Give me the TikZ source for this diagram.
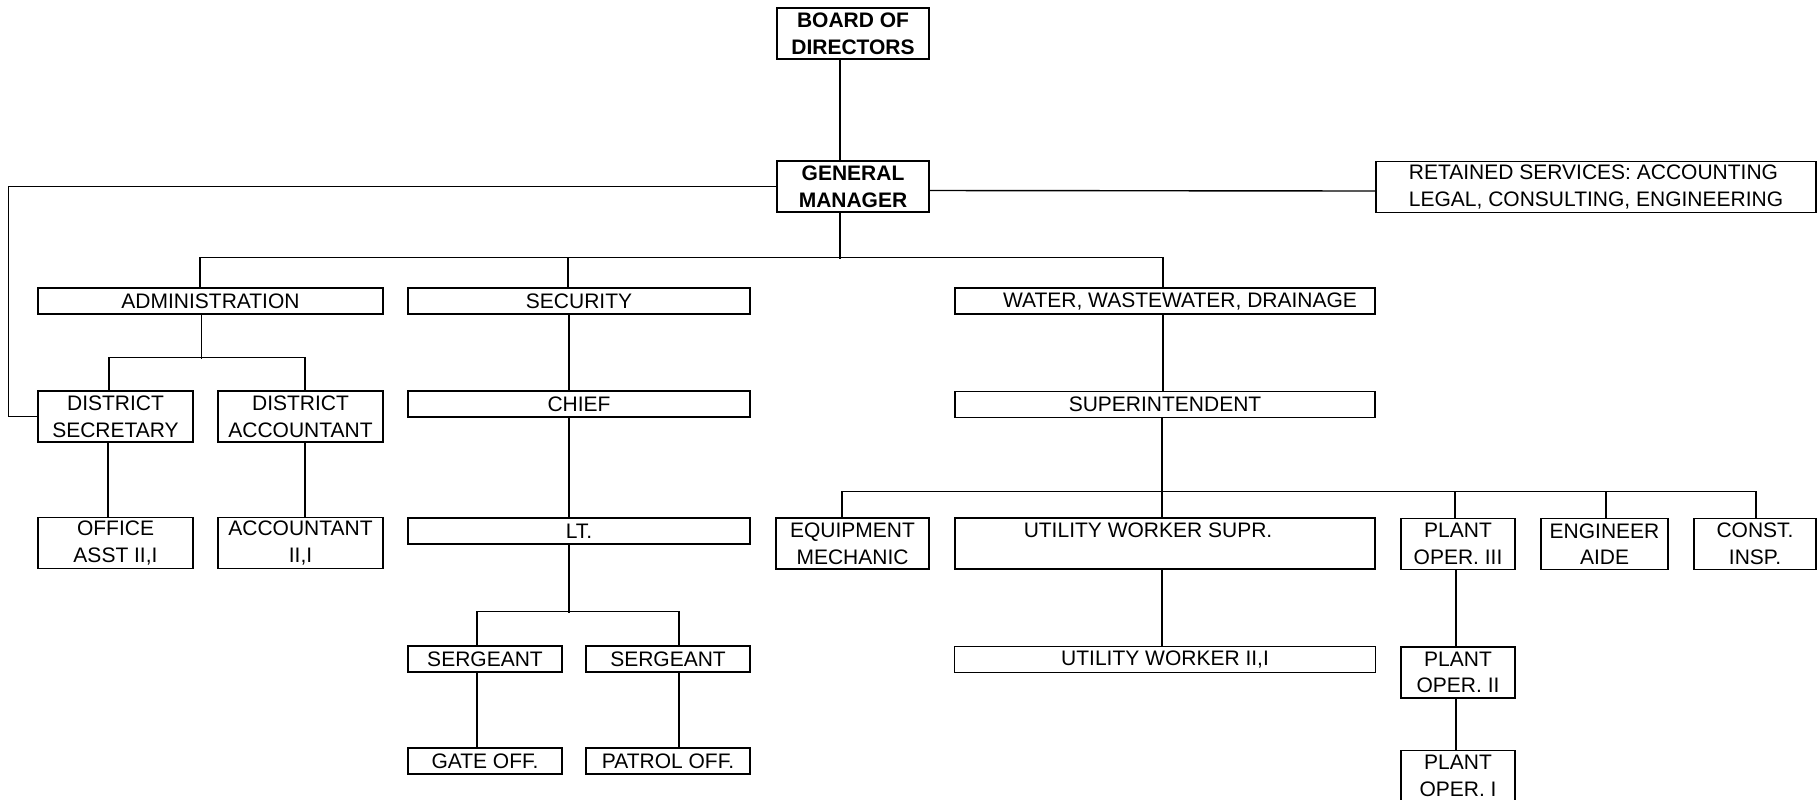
\documentclass[tikz,border=0pt]{standalone}
\usepackage{fontspec}
\setmainfont{Liberation Sans}
\usetikzlibrary{calc}

\begin{document}
\begin{tikzpicture}[
  x=0.5pt, y=-0.5pt,
  every node/.style={font=\fontsize{10.5}{13.3}\selectfont, inner sep=0pt, align=center},
  post/.style={draw, line width=0.7pt, minimum width=#1, minimum height=13pt},
  post2/.style={post=#1, minimum height=25.5pt},
  head/.style={font=\fontsize{10.5}{13.3}\selectfont\bfseries},
  link/.style={line width=0.7pt},
]
\useasboundingbox (0,0) rectangle (1818,799);
% top of the chart
\node[post2=76pt, head] (board) at (853,33.5) {BOARD OF\\DIRECTORS};
\node[post2=76pt, head] (gm) at (853,186.5) {GENERAL\\MANAGER};
\node[post2=220pt, align=left] (ret) at (1596,187)
  {RETAINED SERVICES: ACCOUNTING\\LEGAL, CONSULTING, ENGINEERING};
% departments
\node[post=172.5pt] (admin) at (210.5,301) {ADMINISTRATION};
\node[post=171pt] (sec) at (579,301) {SECURITY};
\node[post=210pt] (water) at (1165,301) {\hspace*{15pt}WATER, WASTEWATER, DRAINAGE};
% administration
\node[post2=77.5pt] (dsec) at (115.5,416.5) {DISTRICT\\SECRETARY};
\node[post2=82.5pt] (dacc) at (300.5,416.5) {DISTRICT\\ACCOUNTANT};
\node[post2=77.5pt] (office) at (115.5,543) {OFFICE\\ASST II,I};
\node[post2=82.5pt] (acc) at (300.5,543) {ACCOUNTANT\\II,I};
% security
\node[post=171pt] (chief) at (579,404) {CHIEF};
\node[post=171pt] (lt) at (579,531) {LT.};
\node[post=77pt] (sgtA) at (485,659) {SERGEANT};
\node[post=82pt] (sgtB) at (668,659) {SERGEANT};
\node[post=77pt] (gate) at (485,761) {GATE OFF.};
\node[post=82pt] (patrol) at (668,761) {PATROL OFF.};
% water, wastewater, drainage
\node[post=210pt] (super) at (1165,404.5) {SUPERINTENDENT};
\node[post2=76.5pt] (equip) at (852.5,543.5) {EQUIPMENT\\MECHANIC};
\node[post2=210pt] (uws) at (1165,543.5) {UTILITY WORKER SUPR.\hspace*{17pt}\\\mbox{}};
\node[post2=57pt] (opIII) at (1458,544) {PLANT\\OPER. III};
\node[post2=63.5pt] (aide) at (1604.5,544) {ENGINEER\\AIDE};
\node[post2=61pt] (insp) at (1755,544) {CONST.\\INSP.};
\node[post=210.5pt] (uw) at (1165,659.5) {UTILITY WORKER II,I};
\node[post2=57pt] (opII) at (1458,672.5) {PLANT\\OPER. II};
\node[post2=57pt] (opI) at (1458,776) {PLANT\\OPER. I};

% connectors, top
\draw[link] ($(board.south)+(-13,0)$) -- ($(gm.north)+(-13,0)$);
\draw[link] ($(gm.south)+(-13,0)$) -- ++(0,46);
\draw[link] ($(admin.north)+(-10.5,0)$) -- ++(0,-30) -| ($(water.north)+(-2,0)$);
\draw[link] ($(sec.north)+(-11,0)$) -- ++(0,-30);
\draw[link] (gm.west) -| ($(dsec.west)+(-29,0)$) -- (dsec.west);
\draw[link] ($(gm.east)+(0,4)$) -- ($(ret.west)+(0,4)$);
% connectors, administration
\draw[link] ($(admin.south)+(-9,0)$) -- ++(0,44);
\draw[link] ($(dsec.north)+(-6.5,0)$) -- ++(0,-33) -| ($(dacc.north)+(4.5,0)$);
\draw[link] ($(dsec.south)+(-7.5,0)$) -- ($(office.north)+(-7.5,0)$);
\draw[link] ($(dacc.south)+(4.5,0)$) -- ($(acc.north)+(4.5,0)$);
% connectors, security
\draw[link] ($(sec.south)+(-10,0)$) -- ($(chief.north)+(-10,0)$);
\draw[link] ($(chief.south)+(-10,0)$) -- ($(lt.north)+(-10,0)$);
\draw[link] ($(lt.south)+(-10,0)$) -- ++(0,68);
\draw[link] ($(sgtA.north)+(-8,0)$) -- ++(0,-34) -| ($(sgtB.north)+(11,0)$);
\draw[link] ($(sgtA.south)+(-8,0)$) -- ($(gate.north)+(-8,0)$);
\draw[link] ($(sgtB.south)+(11,0)$) -- ($(patrol.north)+(11,0)$);
% connectors, water
\draw[link] ($(water.south)+(-2,0)$) -- ($(super.north)+(-2,0)$);
\draw[link] ($(super.south)+(-3,0)$) -- ($(uws.north)+(-3,0)$);
\draw[link] ($(equip.north)+(-10.5,0)$) -- ++(0,-26) -| ($(insp.north)+(1,0)$);
\draw[link] ($(opIII.north)+(-3,0)$) -- ++(0,-26);
\draw[link] ($(aide.north)+(1.5,0)$) -- ++(0,-26);
\draw[link] ($(uws.south)+(-3,0)$) -- ($(uw.north)+(-3,0)$);
\draw[link] ($(opIII.south)+(-2,0)$) -- ($(opII.north)+(-2,0)$);
\draw[link] ($(opII.south)+(-2,0)$) -- ($(opI.north)+(-2,0)$);
\end{tikzpicture}
\end{document}
